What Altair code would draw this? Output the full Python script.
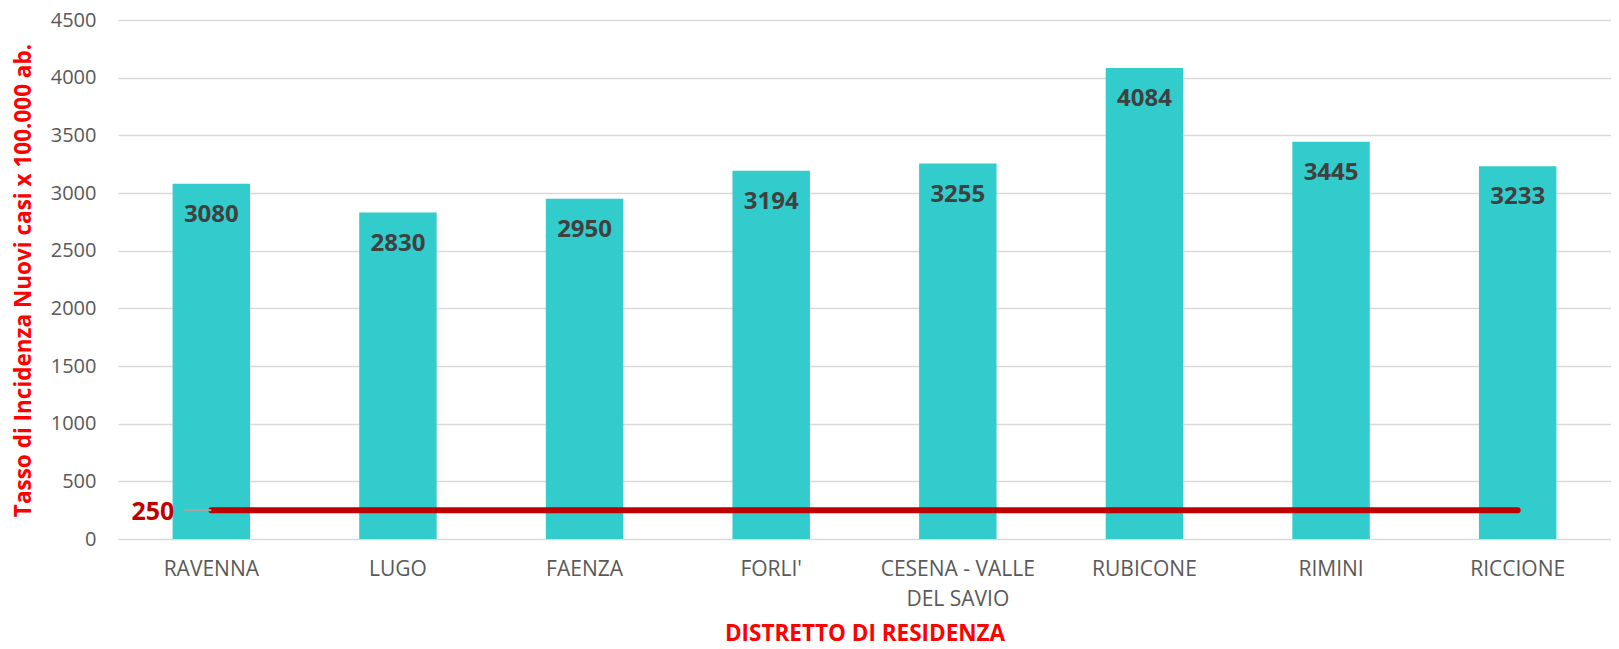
import altair as alt
import pandas as pd

categories = ["RAVENNA", "LUGO", "FAENZA", "FORLI'", "CESENA - VALLE DEL SAVIO",
              "RUBICONE", "RIMINI", "RICCIONE"]
values = [3080, 2830, 2950, 3194, 3255, 4084, 3445, 3233]
threshold = 250
y_ticks = [0, 500, 1000, 1500, 2000, 2500, 3000, 3500, 4000, 4500]

y_title = "Tasso di Incidenza Nuovi casi x 100.000 ab."
x_title = "DISTRETTO DI RESIDENZA"

df = pd.DataFrame({
    "distretto": categories,
    "tasso": values,
    "soglia": [threshold] * len(categories),
})
thr_df = pd.DataFrame({"distretto": [categories[0]], "soglia": [threshold]})

FONT = "Open Sans"

x_enc = alt.X(
    "distretto:N",
    sort=categories,
    scale=alt.Scale(paddingInner=0, paddingOuter=0),
    axis=alt.Axis(
        title=x_title,
        labelAngle=0,
        labelExpr="datum.label == 'CESENA - VALLE DEL SAVIO' ? ['CESENA - VALLE', 'DEL SAVIO'] : datum.label",
        labelFont=FONT, labelFontSize=21, labelColor="#595959",
        labelLineHeight=30, labelPadding=19, labelBaseline="top",
        ticks=False, domain=False, grid=False,
        titleFont=FONT, titleFontSize=22.5, titleFontWeight="bold", titleColor="#FF0000",
        titleBaseline="alphabetic", titleY=101,
    ),
)


def y_enc(field):
    return alt.Y(
        field,
        scale=alt.Scale(domain=[0, 4500], nice=False),
        axis=alt.Axis(
            title=y_title,
            values=y_ticks,
            format="d",
            labelFont=FONT, labelFontSize=20, labelColor="#595959",
            labelPadding=22, ticks=False, tickSize=0, domain=False,
            grid=True, gridColor="#D9D9D9", gridWidth=1.5,
            titleFont=FONT, titleFontSize=22.5, titleFontWeight="bold", titleColor="#FF0000",
            titleX=-95, titleY=260, titleBaseline="middle", titleAngle=270, titleAlign="center",
        ),
    )


base = alt.Chart(df).encode(x=x_enc)

bars = base.mark_bar(color="#33CCCC", width=alt.RelativeBandSize(0.415)).encode(
    y=y_enc("tasso:Q")
)

labels = base.mark_text(
    font=FONT, fontSize=24, fontWeight="bold", color="#404040",
    baseline="alphabetic", dy=38,
).encode(y=y_enc("tasso:Q"), text=alt.Text("tasso:Q", format="d"))

line = base.mark_line(color="#C00000", strokeWidth=6, strokeCap="round").encode(
    y=y_enc("soglia:Q")
)

leader = alt.Chart(thr_df).mark_rule(color="#A6A6A6", strokeWidth=2, xOffset=-27).encode(
    x=alt.X("distretto:N", sort=categories),
    x2="distretto:N",
    y=y_enc("soglia:Q"),
)

thr_label = alt.Chart(thr_df).mark_text(
    font=FONT, fontSize=25, fontWeight="bold", color="#C00000",
    align="right", baseline="alphabetic", dx=-37, dy=10,
).encode(
    x=alt.X("distretto:N", sort=categories),
    y=y_enc("soglia:Q"),
    text=alt.Text("soglia:Q", format="d"),
)

chart = alt.layer(bars, line, leader, labels, thr_label).properties(
    width=1493,
    height=519,
    autosize=alt.AutoSizeParams(type="none"),
    padding={"left": 110, "top": 12, "right": 0, "bottom": 110},
).configure_view(stroke=None)

chart.save("out.html", embed_options={"renderer": "svg", "actions": False})
